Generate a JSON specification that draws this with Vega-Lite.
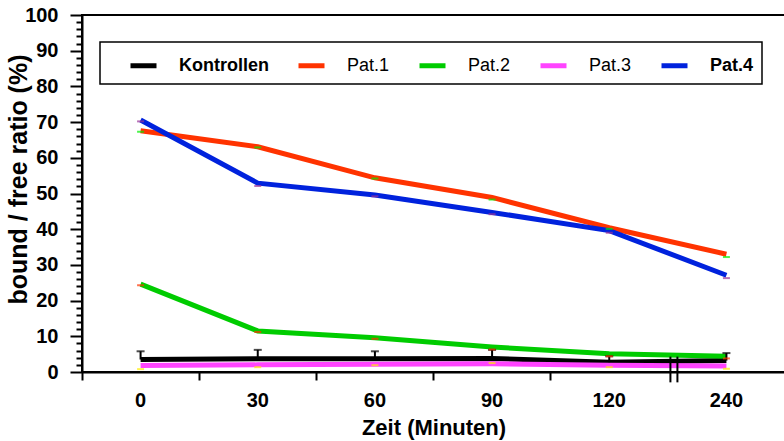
{
  "$schema": "https://vega.github.io/schema/vega-lite/v6.json",
  "width": 703,
  "height": 357,
  "autosize": {"type": "none"},
  "padding": {"left": 82, "top": 15, "right": 0, "bottom": 69},
  "config": {
    "view": {"stroke": "black", "strokeWidth": 2},
    "font": "Liberation Sans, Arial",
    "axis": {"grid": false, "domainColor": "black", "domainWidth": 2, "tickColor": "black", "tickWidth": 2, "labelColor": "black", "titleColor": "black", "labelFontWeight": "bold", "titleFontWeight": "bold"}
  },
  "datasets": {
    "series": [
      {"t": "0", "g": "Kontrollen", "v": 3.5, "m": 5.8},
      {"t": "30", "g": "Kontrollen", "v": 3.7, "m": 6.2},
      {"t": "60", "g": "Kontrollen", "v": 3.7, "m": 5.8},
      {"t": "90", "g": "Kontrollen", "v": 3.8, "m": 6.2},
      {"t": "120", "g": "Kontrollen", "v": 2.75, "m": 4.4},
      {"t": "240", "g": "Kontrollen", "v": 3.2, "m": 5.3},
      {"t": "0", "g": "Pat.1", "v": 67.6, "m": 67.3},
      {"t": "30", "g": "Pat.1", "v": 63.1, "m": 62.9},
      {"t": "60", "g": "Pat.1", "v": 54.4, "m": 54.2},
      {"t": "90", "g": "Pat.1", "v": 48.9, "m": 48.3},
      {"t": "120", "g": "Pat.1", "v": 40.4, "m": 40.1},
      {"t": "240", "g": "Pat.1", "v": 33.0, "m": 32.2},
      {"t": "0", "g": "Pat.2", "v": 24.6, "m": 24.3},
      {"t": "30", "g": "Pat.2", "v": 11.5, "m": 11.2},
      {"t": "60", "g": "Pat.2", "v": 9.6, "m": 9.3},
      {"t": "90", "g": "Pat.2", "v": 7.0, "m": 6.3},
      {"t": "120", "g": "Pat.2", "v": 5.1, "m": 4.4},
      {"t": "240", "g": "Pat.2", "v": 4.4, "m": 3.8},
      {"t": "0", "g": "Pat.3", "v": 1.8, "m": 0.8},
      {"t": "30", "g": "Pat.3", "v": 2.0, "m": 1.35},
      {"t": "60", "g": "Pat.3", "v": 2.2, "m": 1.9},
      {"t": "90", "g": "Pat.3", "v": 2.3, "m": 2.5},
      {"t": "120", "g": "Pat.3", "v": 1.9, "m": 1.35},
      {"t": "240", "g": "Pat.3", "v": 1.7, "m": 0.9},
      {"t": "0", "g": "Pat.4", "v": 70.6, "m": 70.2},
      {"t": "30", "g": "Pat.4", "v": 52.9, "m": 52.1},
      {"t": "60", "g": "Pat.4", "v": 49.6, "m": 49.2},
      {"t": "90", "g": "Pat.4", "v": 44.7, "m": 44.2},
      {"t": "120", "g": "Pat.4", "v": 39.6, "m": 39.0},
      {"t": "240", "g": "Pat.4", "v": 27.1, "m": 26.3}
    ],
    "brk": [{"t": "240", "lo": -2.9, "hi": 4.3}]
  },
  "layer": [
    {
      "data": {"name": "series"},
      "mark": {"type": "line", "strokeWidth": 5},
      "encoding": {
        "x": {
          "field": "t", "type": "ordinal",
          "scale": {"type": "band", "domain": ["0", "30", "60", "90", "120", "240"], "paddingInner": 0, "paddingOuter": 0},
          "axis": {
            "title": "Zeit (Minuten)", "titleFontSize": 22, "titleY": 62, "titleBaseline": "alphabetic",
            "labelAngle": 0, "labelFontSize": 20, "labelPadding": 10, "tickSize": 8, "bandPosition": 0,
            "tickOpacity": {"condition": {"test": "datum.value === '240'", "value": 0}, "value": 1}
          }
        },
        "y": {
          "field": "v", "type": "quantitative",
          "scale": {"domain": [0, 100], "nice": false},
          "axis": {
            "orient": "left", "ticks": true,
            "title": "bound / free ratio (%)", "titleFontSize": 25, "titleX": -64, "titleY": 164, "titleBaseline": "middle",
            "values": [0, 10, 20, 30, 40, 50, 60, 70, 80, 90, 100],
            "labelFontSize": 20, "labelPadding": 12, "tickSize": 12
          }
        },
        "color": {
          "field": "g", "type": "nominal",
          "scale": {"domain": ["Kontrollen", "Pat.1", "Pat.2", "Pat.3", "Pat.4"], "range": ["#000000", "#ff3300", "#00cc00", "#ff44ff", "#0022dd"]},
          "legend": {
            "orient": "none", "legendX": 18, "legendY": 27, "direction": "horizontal", "title": null,
            "strokeColor": "black", "fillColor": "white", "padding": 8,
            "symbolType": "stroke", "symbolSize": 676, "symbolStrokeWidth": 5, "symbolOffset": 20,
            "labelFontSize": 18, "labelColor": "black", "labelOffset": 20, "columnPadding": 7,
            "encode": {
              "legend": {"update": {"strokeWidth": {"value": 1.5}}},
              "labels": {"update": {"fontWeight": {"signal": "datum.label === 'Kontrollen' || datum.label === 'Pat.4' ? 'bold' : 'normal'"}}}
            }
          }
        }
      }
    },
    {
      "data": {"name": "series"},
      "transform": [{"filter": "datum.g === 'Kontrollen'"}],
      "mark": {"type": "rule", "color": "black", "strokeWidth": 2},
      "encoding": {
        "x": {"field": "t", "type": "ordinal"},
        "y": {
          "field": "v", "type": "quantitative",
          "axis": {"orient": "left", "ticks": true, "title": null, "labels": false, "domain": false, "tickSize": 6, "values": [2,4,6,8,12,14,16,18,22,24,26,28,32,34,36,38,42,44,46,48,52,54,56,58,62,64,66,68,72,74,76,78,82,84,86,88,92,94,96,98]}
        },
        "y2": {"field": "m"}
      }
    },
    {
      "data": {"name": "series"},
      "transform": [{"filter": "datum.g === 'Kontrollen'"}],
      "mark": {"type": "tick", "color": "black", "thickness": 2, "size": 8},
      "encoding": {
        "x": {"field": "t", "type": "ordinal"},
        "y": {"field": "m", "type": "quantitative", "axis": null}
      }
    },
    {
      "data": {"name": "series"},
      "transform": [{"filter": "datum.g !== 'Kontrollen'"}],
      "mark": {"type": "tick", "thickness": 2, "size": 7},
      "encoding": {
        "x": {"field": "t", "type": "ordinal"},
        "y": {"field": "m", "type": "quantitative", "axis": null},
        "color": {
          "field": "g", "type": "nominal",
          "scale": {"domain": ["Pat.1", "Pat.2", "Pat.3", "Pat.4"], "range": ["#00ee00", "#ff3300", "#ffee00", "#993399"]},
          "legend": null
        }
      }
    },
    {
      "data": {"name": "brk"},
      "mark": {"type": "rule", "color": "black", "strokeWidth": 2, "xOffset": -56},
      "encoding": {
        "x": {"field": "t", "type": "ordinal"},
        "y": {"field": "lo", "type": "quantitative", "axis": null},
        "y2": {"field": "hi"}
      }
    },
    {
      "data": {"name": "brk"},
      "mark": {"type": "rule", "color": "black", "strokeWidth": 2, "xOffset": -49},
      "encoding": {
        "x": {"field": "t", "type": "ordinal"},
        "y": {"field": "lo", "type": "quantitative", "axis": null},
        "y2": {"field": "hi"}
      }
    }
  ],
  "resolve": {"scale": {"color": "independent"}, "axis": {"y": "independent"}}
}
